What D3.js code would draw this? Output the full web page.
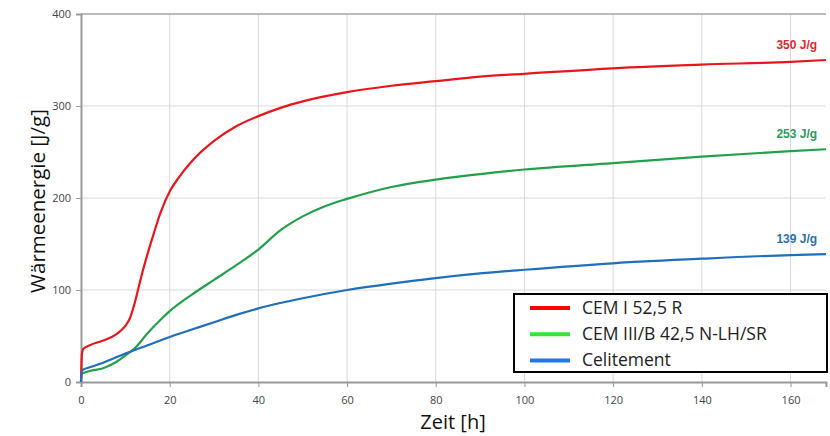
<!DOCTYPE html>
<html><head><meta charset="utf-8">
<script src="https://cdn.jsdelivr.net/npm/d3@7"></script>
<style>body{margin:0;background:#fff}svg{display:block}</style>
</head><body><svg id="c" width="830" height="436"></svg>
<script>
const seriesNames = ["CEM I 52,5 R", "CEM III/B 42,5 N-LH/SR", "Celitement"];
const endLabels = ["350 J/g", "253 J/g", "139 J/g"];
const xTicks = [0,20,40,60,80,100,120,140,160];
const yTicks = [0,100,200,300,400];
const tCem1 = [0,0.2,0.5,2,5,8,9,10,11,12,13,14,16,18,20,22,25,30,35,40,45,50,60,70,80,90,100,120,140,160,168];
const vCem1 = [0,30,36,40,45,52,56,61,69,84,103,122,155,185,207,222,240,262,278,289,298,305,315,322,327,332,335,341,345,348,350];
const tCem3 = [0,2,5,8,10,12,15,18,20,25,30,35,40,45,50,55,60,70,80,90,100,120,140,160,168];
const vCem3 = [9,12,15,22,29,36,53,68,77,95,111,127,144,165,180,191,199,212,220,226,231,238,245,251,253];
const tCeli = [0,0.3,2,5,10,15,20,25,30,35,40,50,60,70,80,90,100,120,140,160,168];
const vCeli = [0,13,16,21,31,40,49,57,65,73,80,91,100,107,113,118,122,129,134,138,139];

const lineColors = ["#e8161c", "#23a04c", "#1f6fba"];
const legendColors = ["#ff0000", "#33e633", "#2277ee"];
const labelColors = ["#e02a2a", "#2e9b5b", "#2a70b0"];

const svg = d3.select("#c");
const m = {l:81, r:826, t:14, b:382};
const x = d3.scaleLinear().domain([0,168]).range([m.l, m.r]);
const y = d3.scaleLinear().domain([0,400]).range([m.b, m.t]);

// grid
svg.append("g").selectAll("line.v").data(xTicks.slice(1)).join("line")
  .attr("x1", d=>x(d)).attr("x2", d=>x(d)).attr("y1", m.t).attr("y2", m.b)
  .attr("stroke", "#d9d9d9").attr("stroke-width", 1);
svg.append("g").selectAll("line.h").data(yTicks.slice(1)).join("line")
  .attr("x1", m.l).attr("x2", m.r).attr("y1", d=>y(d)).attr("y2", d=>y(d))
  .attr("stroke", d=> d===400 ? "#a6a6a6" : "#d9d9d9").attr("stroke-width", d=> d===400 ? 1.5 : 1);

// axes
const xa = svg.append("g").attr("transform", `translate(0,${m.b})`)
  .call(d3.axisBottom(x).tickValues(xTicks).tickSize(5).tickPadding(9));
const ya = svg.append("g").attr("transform", `translate(${m.l},0)`)
  .call(d3.axisLeft(y).tickValues(yTicks).tickSize(5).tickPadding(5));
[xa, ya].forEach(a => {
  a.select(".domain").attr("stroke", "#999").attr("stroke-width", 2);
  a.selectAll(".tick line").attr("stroke", "#999");
  a.selectAll(".tick text").attr("fill", "#444").style("font-family", "Open Sans, sans-serif").style("font-size", "11px");
});

// lines
const data = [[tCem1,vCem1],[tCem3,vCem3],[tCeli,vCeli]];
const line = d3.line().x(d=>x(d[0])).y(d=>y(d[1])).curve(d3.curveMonotoneX);
data.forEach(([t,v], i) => {
  svg.append("path").datum(t.map((d,j)=>[d, v[j]]))
    .attr("d", line).attr("fill", "none").attr("stroke", lineColors[i]).attr("stroke-width", 2.2);
});

// end labels
const endY = [vCem1[vCem1.length-1], vCem3[vCem3.length-1], vCeli[vCeli.length-1]];
endLabels.forEach((lab,i) => {
  svg.append("text").attr("x", x(166)).attr("y", y(endY[i]) - 11)
    .attr("text-anchor", "end").attr("fill", labelColors[i])
    .style("font-family", "Liberation Sans, Arial, sans-serif").style("font-weight", "bold").style("font-size", "12px")
    .text(lab);
});

// axis titles
svg.append("text").attr("x", 453).attr("y", 429).attr("text-anchor", "middle")
  .style("font-family", "Open Sans, sans-serif").style("font-size", "20px").attr("fill", "#111").text("Zeit [h]");
svg.append("text").attr("transform", "translate(45,201) rotate(-90)").attr("text-anchor", "middle")
  .style("font-family", "Open Sans, sans-serif").style("font-size", "20.5px").attr("fill", "#111").text("Wärmeenergie [J/g]");

// legend
const lg = svg.append("g");
lg.append("rect").attr("x", 514).attr("y", 294).attr("width", 313).attr("height", 78)
  .attr("fill", "#fff").attr("stroke", "#000").attr("stroke-width", 2);
seriesNames.forEach((s,i) => {
  const yy = 308 + i*26.2;
  lg.append("line").attr("x1", 530).attr("x2", 570).attr("y1", yy).attr("y2", yy)
    .attr("stroke", legendColors[i]).attr("stroke-width", 4);
  lg.append("text").attr("x", 582).attr("y", yy + 6)
    .style("font-family", "Open Sans, sans-serif").style("font-size", "17.5px").attr("fill", "#222").text(s);
});
</script></body></html>
